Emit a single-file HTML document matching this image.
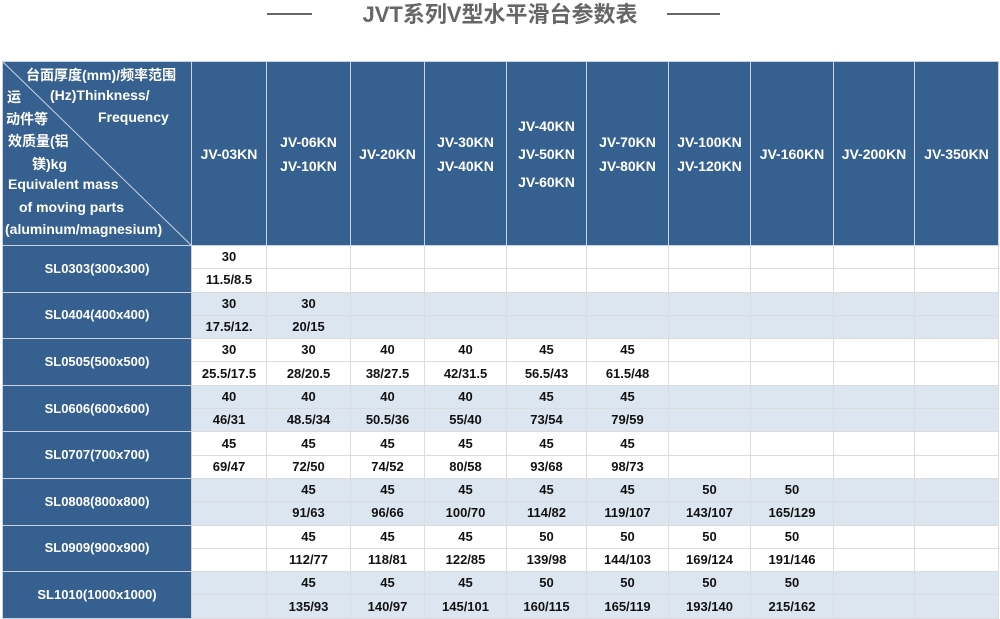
<!DOCTYPE html>
<html><head><meta charset="utf-8"><style>
body{margin:0;width:1000px;height:589px;overflow:hidden;background:#fff;font-family:"Liberation Sans","Noto Sans CJK SC",sans-serif;position:relative}
.t{position:absolute;top:2px;left:0;width:1000px;text-align:center;font-size:22px;font-weight:bold;color:#666;line-height:26px}
.ln{position:absolute;top:13px;height:2px;background:#666}
table{position:absolute;left:2px;top:61px;border-collapse:collapse;table-layout:fixed;width:996px}
td{border:1px solid #dcdcdc;text-align:center;font-size:13px;font-weight:bold;color:#111;padding:0;height:22.3px;line-height:22px;white-space:nowrap;overflow:hidden}
th{background:#35608f;color:#fff;border:1px solid #c9d3e0;font-size:14px;font-weight:bold;line-height:24px;height:183px;padding:0}
th.l3{line-height:28px}
td.h{background:#35608f;color:#fff;border:1px solid #c9d3e0}
tr.b td{background:#dce6f1}
tr.b td.h{background:#35608f}
.c{position:absolute;color:#fff;font-size:14px;font-weight:bold;white-space:nowrap}
</style></head><body>
<div class="ln" style="left:267px;width:45px"></div>
<div class="ln" style="left:667px;width:53px"></div>
<div class="t">JVT系列V型水平滑台参数表</div>
<table>
<colgroup><col style="width:189px"><col style="width:75px"><col style="width:84px"><col style="width:74px"><col style="width:82px"><col style="width:80px"><col style="width:82px"><col style="width:82px"><col style="width:83px"><col style="width:81px"><col style="width:84px"></colgroup>
<tr><th></th><th>JV-03KN</th><th>JV-06KN<br>JV-10KN</th><th>JV-20KN</th><th>JV-30KN<br>JV-40KN</th><th class="l3">JV-40KN<br>JV-50KN<br>JV-60KN</th><th>JV-70KN<br>JV-80KN</th><th>JV-100KN<br>JV-120KN</th><th>JV-160KN</th><th>JV-200KN</th><th>JV-350KN</th></tr>
<tr><td class="h" rowspan="2">SL0303(300x300)</td><td>30</td><td></td><td></td><td></td><td></td><td></td><td></td><td></td><td></td><td></td></tr>
<tr><td>11.5/8.5</td><td></td><td></td><td></td><td></td><td></td><td></td><td></td><td></td><td></td></tr>
<tr class="b"><td class="h" rowspan="2">SL0404(400x400)</td><td>30</td><td>30</td><td></td><td></td><td></td><td></td><td></td><td></td><td></td><td></td></tr>
<tr class="b"><td>17.5/12.</td><td>20/15</td><td></td><td></td><td></td><td></td><td></td><td></td><td></td><td></td></tr>
<tr><td class="h" rowspan="2">SL0505(500x500)</td><td>30</td><td>30</td><td>40</td><td>40</td><td>45</td><td>45</td><td></td><td></td><td></td><td></td></tr>
<tr><td>25.5/17.5</td><td>28/20.5</td><td>38/27.5</td><td>42/31.5</td><td>56.5/43</td><td>61.5/48</td><td></td><td></td><td></td><td></td></tr>
<tr class="b"><td class="h" rowspan="2">SL0606(600x600)</td><td>40</td><td>40</td><td>40</td><td>40</td><td>45</td><td>45</td><td></td><td></td><td></td><td></td></tr>
<tr class="b"><td>46/31</td><td>48.5/34</td><td>50.5/36</td><td>55/40</td><td>73/54</td><td>79/59</td><td></td><td></td><td></td><td></td></tr>
<tr><td class="h" rowspan="2">SL0707(700x700)</td><td>45</td><td>45</td><td>45</td><td>45</td><td>45</td><td>45</td><td></td><td></td><td></td><td></td></tr>
<tr><td>69/47</td><td>72/50</td><td>74/52</td><td>80/58</td><td>93/68</td><td>98/73</td><td></td><td></td><td></td><td></td></tr>
<tr class="b"><td class="h" rowspan="2">SL0808(800x800)</td><td></td><td>45</td><td>45</td><td>45</td><td>45</td><td>45</td><td>50</td><td>50</td><td></td><td></td></tr>
<tr class="b"><td></td><td>91/63</td><td>96/66</td><td>100/70</td><td>114/82</td><td>119/107</td><td>143/107</td><td>165/129</td><td></td><td></td></tr>
<tr><td class="h" rowspan="2">SL0909(900x900)</td><td></td><td>45</td><td>45</td><td>45</td><td>50</td><td>50</td><td>50</td><td>50</td><td></td><td></td></tr>
<tr><td></td><td>112/77</td><td>118/81</td><td>122/85</td><td>139/98</td><td>144/103</td><td>169/124</td><td>191/146</td><td></td><td></td></tr>
<tr class="b"><td class="h" rowspan="2">SL1010(1000x1000)</td><td></td><td>45</td><td>45</td><td>45</td><td>50</td><td>50</td><td>50</td><td>50</td><td></td><td></td></tr>
<tr class="b"><td></td><td>135/93</td><td>140/97</td><td>145/101</td><td>160/115</td><td>165/119</td><td>193/140</td><td>215/162</td><td></td><td></td></tr>
</table>
<svg style="position:absolute;left:2px;top:61px" width="190" height="185"><line x1="0" y1="0" x2="189" y2="184" stroke="#c9d3e0" stroke-width="1"/></svg>
<div class="c" style="left:26px;top:65px">台面厚度(mm)/频率范围</div>
<div class="c" style="left:7px;top:87px">运</div>
<div class="c" style="left:50px;top:87px">(Hz)Thinkness/</div>
<div class="c" style="left:6px;top:109px">动件等</div>
<div class="c" style="left:98px;top:109px">Frequency</div>
<div class="c" style="left:8px;top:131px">效质量(铝</div>
<div class="c" style="left:32px;top:154px">镁)kg</div>
<div class="c" style="left:8px;top:176px">Equivalent mass</div>
<div class="c" style="left:19px;top:199px">of moving parts</div>
<div class="c" style="left:5px;top:221px">(aluminum/magnesium)</div>
</body></html>
